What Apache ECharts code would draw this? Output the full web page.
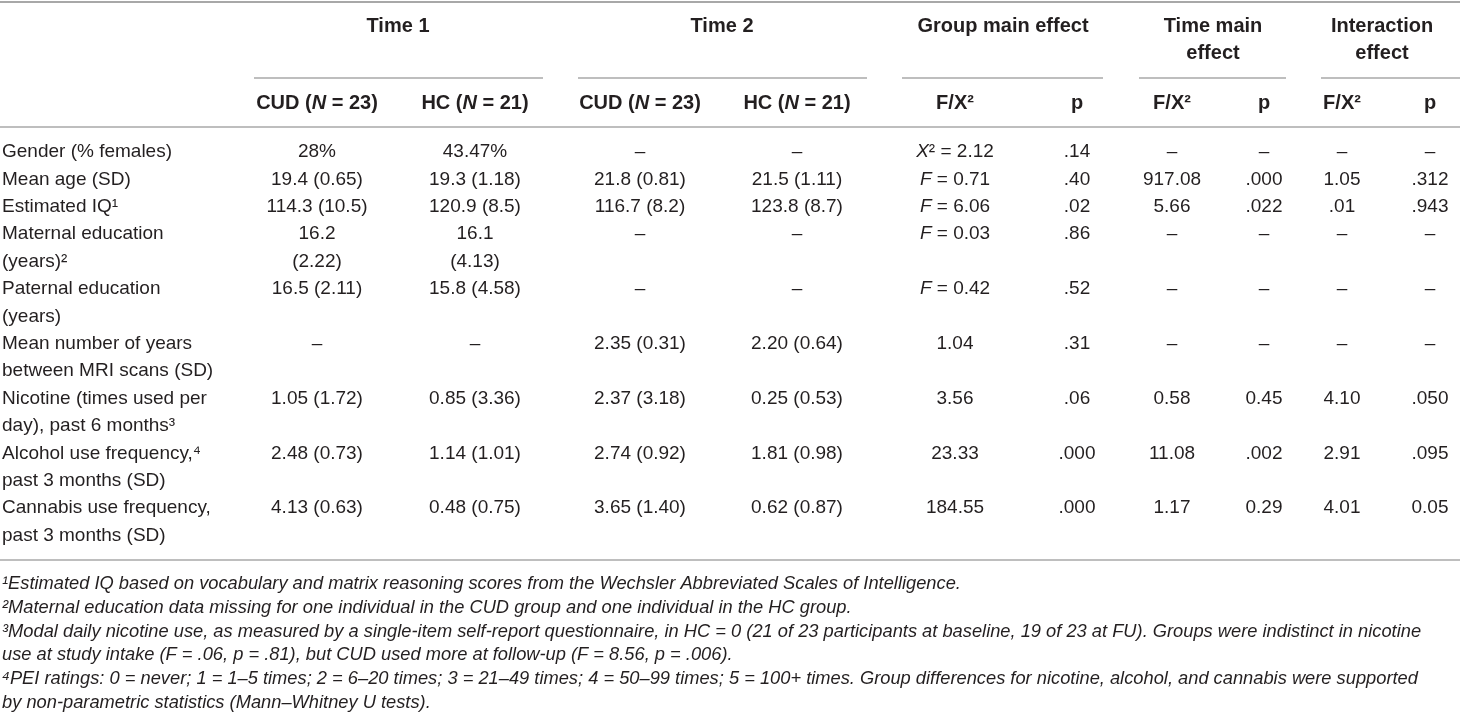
<!DOCTYPE html>
<html>
<head>
<meta charset="utf-8">
<title>Table</title>
<script src="https://cdn.jsdelivr.net/npm/echarts@6/dist/echarts.min.js"></script>
<style>
    html, body { margin: 0; padding: 0; background: #ffffff; }
    #table_chart { width: 1460px; height: 720px; }
</style>
</head>
<body>
<div id="table_chart"></div>
<script>
// 表头
var groupTitles = [["Time 1"], ["Time 2"], ["Group main effect"], ["Time main", "effect"], ["Interaction", "effect"]];
var subHeaders = ["CUD (N = 23)", "HC (N = 21)", "CUD (N = 23)", "HC (N = 21)", "F/X²", "p", "F/X²", "p", "F/X²", "p"];

// 行标签（每行可能两行文字）
var rowLabels = [
    ["Gender (% females)"],
    ["Mean age (SD)"],
    ["Estimated IQ¹"],
    ["Maternal education", "(years)²"],
    ["Paternal education", "(years)"],
    ["Mean number of years", "between MRI scans (SD)"],
    ["Nicotine (times used per", "day), past 6 months³"],
    ["Alcohol use frequency,⁴", "past 3 months (SD)"],
    ["Cannabis use frequency,", "past 3 months (SD)"]
];

// 各列数值
var time1Cud = ["28%", "19.4 (0.65)", "114.3 (10.5)", ["16.2", "(2.22)"], "16.5 (2.11)", "–", "1.05 (1.72)", "2.48 (0.73)", "4.13 (0.63)"];
var time1Hc = ["43.47%", "19.3 (1.18)", "120.9 (8.5)", ["16.1", "(4.13)"], "15.8 (4.58)", "–", "0.85 (3.36)", "1.14 (1.01)", "0.48 (0.75)"];
var time2Cud = ["–", "21.8 (0.81)", "116.7 (8.2)", "–", "–", "2.35 (0.31)", "2.37 (3.18)", "2.74 (0.92)", "3.65 (1.40)"];
var time2Hc = ["–", "21.5 (1.11)", "123.8 (8.7)", "–", "–", "2.20 (0.64)", "0.25 (0.53)", "1.81 (0.98)", "0.62 (0.87)"];
var groupF = ["X² = 2.12", "F = 0.71", "F = 6.06", "F = 0.03", "F = 0.42", "1.04", "3.56", "23.33", "184.55"];
var groupP = [".14", ".40", ".02", ".86", ".52", ".31", ".06", ".000", ".000"];
var timeF = ["–", "917.08", "5.66", "–", "–", "–", "0.58", "11.08", "1.17"];
var timeP = ["–", ".000", ".022", "–", "–", "–", "0.45", ".002", "0.29"];
var interF = ["–", "1.05", ".01", "–", "–", "–", "4.10", "2.91", "4.01"];
var interP = ["–", ".312", ".943", "–", "–", "–", ".050", ".095", "0.05"];

// 脚注
var footnotes = [
    "¹Estimated IQ based on vocabulary and matrix reasoning scores from the Wechsler Abbreviated Scales of Intelligence.",
    "²Maternal education data missing for one individual in the CUD group and one individual in the HC group.",
    "³Modal daily nicotine use, as measured by a single-item self-report questionnaire, in HC = 0 (21 of 23 participants at baseline, 19 of 23 at FU). Groups were indistinct in nicotine",
    "use at study intake (F = .06, p = .81), but CUD used more at follow-up (F = 8.56, p = .006).",
    "⁴PEI ratings: 0 = never; 1 = 1–5 times; 2 = 6–20 times; 3 = 21–49 times; 4 = 50–99 times; 5 = 100+ times. Group differences for nicotine, alcohol, and cannabis were supported",
    "by non-parametric statistics (Mann–Whitney U tests)."
];

// 布局配置
var FONT = "'Liberation Sans', Arial, Helvetica, sans-serif";
var TEXT_COLOR = "#231f20";
var RULE_COLOR = "#a8a8a8";
var colX = [2, 317, 475, 640, 797, 955, 1077, 1172, 1264, 1342, 1430];
var titleX = [398, 722, 1003, 1213, 1382];
var spans = [[254, 543], [578, 867], [902, 1103], [1139, 1286], [1321, 1460]];
var TITLE_Y = 26, TITLE_GAP = 27, SPAN_Y = 78, SUB_Y = 103, HEAD_RULE_Y = 127, TOP_RULE_Y = 2;
var ROW0 = 152, ROW_H = 27.4, BOTTOM_RULE_Y = 560, NOTE0 = 584, NOTE_H = 23.8;

/**
 * 斜体字母 (F, X, N) 用 rich 标记
 * */
function markItalic(s) {
    return s.replace(/^([FX])(?=²? =)/, "{i|$1}").replace("(N =", "({i|N} =");
}

var cells = [];
function addCell(x, y, text, align, kind) {
    cells.push({value: [x, y], text: text, align: align, kind: kind});
}

// 表头单元格
for (var g = 0; g < groupTitles.length; g++) {
    for (var l = 0; l < groupTitles[g].length; l++) {
        addCell(titleX[g], TITLE_Y + l * TITLE_GAP, groupTitles[g][l], "center", "head");
    }
}
for (var h = 0; h < subHeaders.length; h++) {
    addCell(colX[h + 1], SUB_Y, markItalic(subHeaders[h]), "center", "head");
}

// 表体单元格
var dataCols = [time1Cud, time1Hc, time2Cud, time2Hc, groupF, groupP, timeF, timeP, interF, interP];
var line = 0;
for (var r = 0; r < rowLabels.length; r++) {
    for (var k = 0; k < rowLabels[r].length; k++) {
        addCell(colX[0], ROW0 + (line + k) * ROW_H, rowLabels[r][k], "left", "body");
    }
    for (var c = 0; c < dataCols.length; c++) {
        var v = dataCols[c][r];
        var parts = (typeof v === "string") ? [v] : v;
        for (var p = 0; p < parts.length; p++) {
            addCell(colX[c + 1], ROW0 + (line + p) * ROW_H, markItalic(parts[p]), "center", "body");
        }
    }
    line += rowLabels[r].length;
}

// 脚注
for (var n = 0; n < footnotes.length; n++) {
    addCell(colX[0], NOTE0 + n * NOTE_H, footnotes[n], "left", "note");
}

// 横线
var rules = [[0, 1460, TOP_RULE_Y, 2], [0, 1460, HEAD_RULE_Y, 1.5], [0, 1460, BOTTOM_RULE_Y, 1.5]];
for (var s = 0; s < spans.length; s++) {
    rules.push([spans[s][0], spans[s][1], SPAN_Y, 1.5]);
}

var fontOf = {
    head: {fontSize: 20, fontWeight: "bold", fontStyle: "normal"},
    body: {fontSize: 19, fontWeight: "normal", fontStyle: "normal"},
    note: {fontSize: 18.3, fontWeight: "normal", fontStyle: "italic"}
};

function renderCell(params, api) {
    var cell = cells[params.dataIndex];
    var f = fontOf[cell.kind];
    var pt = api.coord([api.value(0), api.value(1)]);
    return {
        type: "text",
        x: pt[0],
        y: pt[1],
        style: {
            text: cell.text,
            fill: TEXT_COLOR,
            fontSize: f.fontSize,
            fontWeight: f.fontWeight,
            fontStyle: f.fontStyle,
            fontFamily: FONT,
            align: cell.align,
            verticalAlign: "middle",
            rich: {
                i: {fontSize: f.fontSize, fontWeight: f.fontWeight, fontStyle: "italic", fontFamily: FONT, fill: TEXT_COLOR}
            }
        }
    };
}

function renderRule(params, api) {
    var a = api.coord([api.value(0), api.value(2)]);
    var b = api.coord([api.value(1), api.value(2)]);
    return {
        type: "line",
        shape: {x1: a[0], y1: a[1], x2: b[0], y2: b[1]},
        style: {stroke: RULE_COLOR, lineWidth: api.value(3)}
    };
}

var chart = echarts.init(document.getElementById("table_chart"), null, {renderer: "canvas"});
chart.setOption({
    animation: false,
    grid: {left: 0, right: 0, top: 0, bottom: 0},
    xAxis: {type: "value", min: 0, max: 1460, show: false},
    yAxis: {type: "value", min: 0, max: 720, inverse: true, show: false},
    series: [
        {
            type: "custom",
            renderItem: renderRule,
            clip: false,
            silent: true,
            encode: {x: [0, 1], y: 2},
            data: rules
        },
        {
            type: "custom",
            renderItem: renderCell,
            clip: false,
            silent: true,
            data: cells.map(function (c) { return c.value; })
        }
    ]
});
</script>
</body>
</html>
